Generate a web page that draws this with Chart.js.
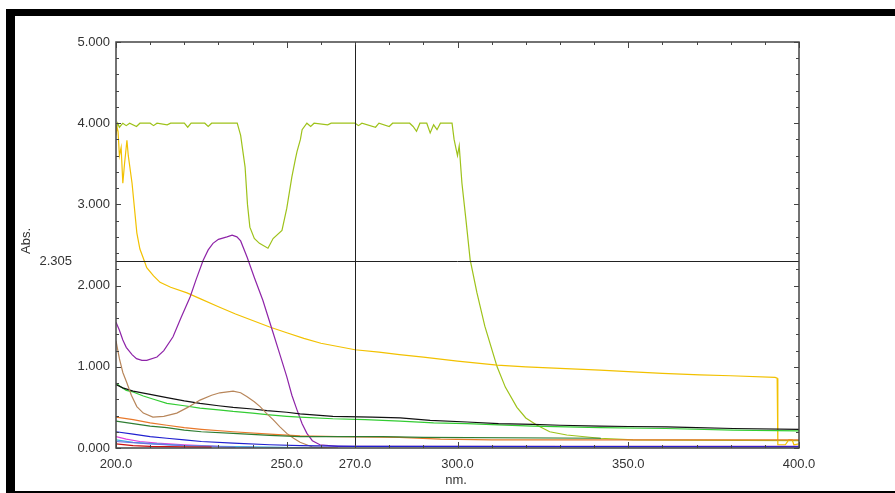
<!DOCTYPE html>
<html>
<head>
<meta charset="utf-8">
<script src="https://cdn.jsdelivr.net/npm/chart.js@4.4.1/dist/chart.umd.min.js"></script>
<style>
  html, body { margin: 0; padding: 0; background: #fff; }
  #wrap { position: relative; width: 895px; height: 493px; overflow: hidden; }
  #c { position: absolute; left: 0; top: 0; }
  .bar { position: absolute; background: #000; }
</style>
</head>
<body>
<div id="wrap">
  <canvas id="c" width="895" height="493"></canvas>
  <div class="bar" style="left:6px;top:9px;width:889px;height:7px"></div>
  <div class="bar" style="left:6px;top:9px;width:9px;height:484px"></div>
  <div class="bar" style="left:6px;top:491px;width:889px;height:2px"></div>
</div>
<script>
var xTicks = [200, 250, 270, 300, 350, 400];
var yTicks = [0, 1, 2, 3, 4, 5];
var cursorX = 270;
var cursorY = 2.305;

var olive = [[200,3.92],[200.5,4.0],[201,3.95],[202,4.0],[203,3.97],[204,4.0],[206,3.96],[207,4.0],[210,4.0],[211,3.97],[212,4.0],[215,3.98],[216,4.0],[220,4.0],[221,3.95],[222,4.0],[226,4.0],[227,3.96],[228,4.0],[235.5,4.0],[236.5,3.85],[237,3.7],[237.8,3.46],[238.5,3.0],[239.2,2.72],[240.5,2.58],[242,2.52],[244.5,2.46],[246,2.58],[248.6,2.68],[250,2.95],[251.5,3.34],[252.5,3.55],[253,3.65],[254,3.8],[254.5,3.92],[255.9,4.0],[257,3.96],[258,4.0],[262,3.98],[263,4.0],[270,4.0],[271,3.97],[272,4.0],[276,3.95],[277,4.0],[280,3.96],[281,4.0],[286,4.0],[287,3.96],[288,3.9],[289,4.0],[291,4.0],[292,3.88],[293,3.98],[294,3.92],[295,4.0],[298.4,4.0],[299,3.8],[299.5,3.7],[300,3.6],[300.5,3.72],[301.3,3.26],[302.5,2.8],[303.7,2.32],[305.7,1.91],[308,1.5],[311.6,1.0],[314,0.75],[317.4,0.5],[320,0.37],[323.3,0.28],[327,0.2],[332,0.16],[341.7,0.12],[351.4,0.10],[400,0.09]];
var yellow = [[200,3.85],[200.3,3.95],[200.6,3.9],[201,3.6],[201.5,3.7],[202,3.26],[202.5,3.5],[203.2,3.79],[203.6,3.6],[204.7,3.26],[206.1,2.65],[207,2.45],[207.9,2.35],[209,2.22],[211,2.12],[212.9,2.04],[216,1.98],[220.8,1.91],[224.6,1.84],[230,1.74],[235,1.65],[240,1.57],[245,1.49],[250,1.42],[255,1.35],[260,1.29],[265,1.25],[270,1.21],[277,1.18],[283,1.15],[290,1.12],[300,1.07],[311.6,1.02],[320,1.0],[330,0.98],[341.7,0.96],[350,0.94],[360,0.92],[371,0.90],[380,0.89],[393,0.87],[393.6,0.86],[393.8,0.04],[396,0.04],[397,0.1],[398,0.1],[398.5,0.04],[400,0.05]];
var purple = [[200,1.55],[201,1.45],[202,1.33],[203,1.24],[204.7,1.15],[206,1.1],[207.6,1.08],[209,1.08],[212,1.12],[214,1.2],[216.7,1.37],[219,1.6],[221.7,1.86],[223.5,2.08],[225.5,2.31],[227,2.44],[228.4,2.52],[230,2.57],[232.5,2.60],[234,2.62],[235.4,2.60],[236.5,2.55],[238.4,2.35],[240.5,2.1],[243,1.82],[246,1.42],[248,1.15],[250,0.88],[251.5,0.65],[253,0.47],[254.5,0.3],[255.9,0.18],[257.5,0.09],[259.7,0.04],[265,0.02],[400,0.02]];
var tan = [[200,1.32],[201,1.1],[202,0.93],[203.2,0.80],[204.5,0.65],[206.1,0.51],[208,0.43],[210.8,0.38],[214,0.39],[217.8,0.43],[221,0.5],[224.6,0.59],[228,0.65],[230.4,0.68],[234.3,0.70],[236.5,0.68],[238.4,0.63],[240.5,0.57],[242.2,0.51],[244,0.43],[246,0.35],[248,0.26],[250,0.18],[252,0.12],[253.9,0.07],[257.7,0.01],[265,0.0]];
var black = [[200,0.78],[202,0.74],[205,0.70],[210,0.66],[214.9,0.62],[220,0.58],[224.6,0.55],[230,0.52],[234.3,0.50],[240,0.48],[244.2,0.46],[250,0.44],[253.9,0.42],[263.5,0.39],[275,0.38],[283.2,0.37],[292,0.34],[302.8,0.32],[312,0.30],[322.1,0.29],[330,0.28],[341.7,0.27],[350,0.265],[361.3,0.26],[370,0.25],[380.7,0.24],[400,0.23]];
var green = [[200,0.80],[201.5,0.75],[203,0.71],[205,0.69],[208,0.64],[211,0.60],[214.9,0.55],[220,0.52],[224.6,0.49],[230,0.47],[234.3,0.45],[240,0.43],[244.2,0.41],[250,0.39],[253.9,0.38],[263.5,0.36],[273,0.35],[283.2,0.33],[293,0.31],[302.8,0.30],[312,0.285],[322,0.27],[332,0.26],[341.7,0.25],[361,0.24],[380.7,0.22],[400,0.21]];
var orange = [[200,0.38],[205,0.35],[210,0.31],[214.9,0.28],[220,0.25],[225,0.23],[234.3,0.20],[245,0.17],[253.9,0.15],[265,0.14],[283,0.13],[295,0.11],[310,0.10],[400,0.10]];
var darkGreen = [[200,0.33],[205,0.30],[210,0.27],[214.9,0.25],[220,0.22],[225,0.20],[234.3,0.18],[245,0.155],[253.9,0.14],[265,0.14],[278,0.14],[290,0.13],[342,0.12]];
var blue = [[200,0.20],[205,0.17],[210,0.14],[214.9,0.12],[220,0.10],[225,0.08],[234.3,0.06],[245,0.04],[253.9,0.03],[270,0.02],[400,0.015]];
var magenta = [[200,0.14],[203,0.11],[207,0.08],[212,0.06],[220,0.04],[230,0.02],[240,0.01]];
var cyan = [[200,0.10],[205,0.07],[212,0.05],[220,0.03],[230,0.02],[245,0.01],[260,0.0]];
var violet = [[200,0.08],[210,0.05],[220,0.03],[235,0.01]];
var red = [[200,0.05],[205,0.03],[210,0.02],[220,0.015],[228,0.01]];

function serie(pts, cor) {
  return {
    data: pts.map(p => ({ x: p[0], y: p[1] })),
    borderColor: cor,
    borderWidth: 1.2,
    pointRadius: 0,
    tension: 0,
    fill: false
  };
}

// moldura, marcas menores, cursor e títulos
var molduraPlugin = {
  id: 'moldura',
  afterDatasetsDraw(chart) {
    var ctx = chart.ctx, a = chart.chartArea, x = chart.scales.x, y = chart.scales.y;
    ctx.save();
    // cursor
    ctx.strokeStyle = '#222';
    ctx.lineWidth = 1;
    var cx = Math.round(x.getPixelForValue(cursorX)) + 0.5;
    var cy = Math.round(y.getPixelForValue(cursorY)) + 0.5;
    ctx.beginPath();
    ctx.moveTo(cx, a.top); ctx.lineTo(cx, a.bottom);
    ctx.moveTo(a.left, cy); ctx.lineTo(a.right, cy);
    ctx.stroke();
    // moldura
    ctx.strokeStyle = '#444';
    ctx.lineWidth = 1.5;
    ctx.strokeRect(a.left, a.top, a.right - a.left, a.bottom - a.top);
    // marcas
    ctx.lineWidth = 1;
    ctx.beginPath();
    for (var v = 200; v <= 400; v += 10) {
      var px = Math.round(x.getPixelForValue(v)) + 0.5;
      var len = (v % 50 === 0) ? 6 : 3;
      ctx.moveTo(px, a.bottom); ctx.lineTo(px, a.bottom - len);
      ctx.moveTo(px, a.top); ctx.lineTo(px, a.top + len);
    }
    for (var i = 0; i <= 25; i++) {
      var py = Math.round(y.getPixelForValue(i / 5)) + 0.5;
      var l2 = (i % 5 === 0) ? 5 : 3;
      ctx.moveTo(a.left, py); ctx.lineTo(a.left + l2, py);
      ctx.moveTo(a.right, py); ctx.lineTo(a.right - l2, py);
    }
    ctx.stroke();
    // textos
    ctx.fillStyle = '#333';
    ctx.font = '13px "Liberation Sans", Arial, sans-serif';
    ctx.textAlign = 'right';
    ctx.textBaseline = 'middle';
    ctx.fillText(cursorY.toFixed(3), 72, cy);
    ctx.textAlign = 'center';
    ctx.fillText('nm.', 456, 480);
    ctx.translate(26, 241);
    ctx.rotate(-Math.PI / 2);
    ctx.fillText('Abs.', 0, 0);
    ctx.restore();
  }
};

var ctx = document.getElementById('c').getContext('2d');
new Chart(ctx, {
  type: 'line',
  data: {
    datasets: [
      serie(red, '#cc1010'),
      serie(violet, '#7070e0'),
      serie(cyan, '#40b0e0'),
      serie(magenta, '#e040e0'),
      serie(blue, '#2020d0'),
      serie(darkGreen, '#2e7d32'),
      serie(orange, '#e8782a'),
      serie(tan, '#b8865a'),
      serie(black, '#111111'),
      serie(green, '#33cc33'),
      serie(purple, '#8e24a8'),
      serie(yellow, '#f2c100'),
      serie(olive, '#9ec21a')
    ]
  },
  options: {
    responsive: false,
    animation: false,
    devicePixelRatio: 1,
    layout: { padding: { left: 0, top: 42, right: 96, bottom: 0 } },
    plugins: { legend: { display: false }, tooltip: { enabled: false } },
    scales: {
      x: {
        type: 'linear',
        min: 200, max: 400,
        afterBuildTicks: s => { s.ticks = xTicks.map(v => ({ value: v })); },
        afterFit: s => { s.height = 45; },
        grid: { display: false, drawTicks: false },
        border: { display: false },
        ticks: { padding: 9, color: '#333', font: { family: '"Liberation Sans", Arial', size: 13 },
                 maxRotation: 0, autoSkip: false, callback: v => Number(v).toFixed(1) }
      },
      y: {
        min: 0, max: 5,
        afterBuildTicks: s => { s.ticks = yTicks.map(v => ({ value: v })); },
        afterFit: s => { s.width = 116; },
        grid: { display: false, drawTicks: false },
        border: { display: false },
        ticks: { padding: 6, color: '#333', font: { family: '"Liberation Sans", Arial', size: 13 },
                 callback: v => Number(v).toFixed(3) }
      }
    }
  },
  plugins: [molduraPlugin]
});
</script>
</body>
</html>
